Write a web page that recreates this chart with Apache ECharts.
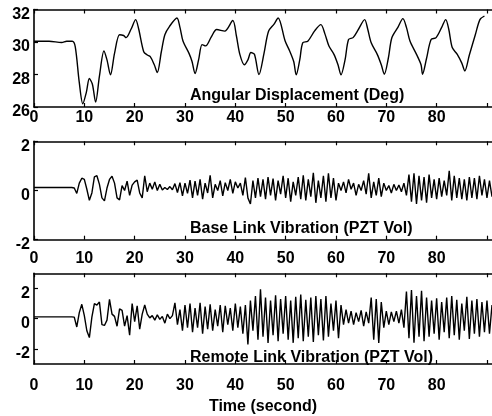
<!DOCTYPE html>
<html><head><meta charset="utf-8">
<script src="https://cdn.jsdelivr.net/npm/echarts@6/dist/echarts.min.js"></script>
<style>html,body{margin:0;padding:0;background:#fff}#c{width:492px;height:416px}</style>
</head><body><div id="c"></div>
<script>
// ---- data ----
const xTickValues = [0,10,20,30,40,50,60,70,80];
const angleTickValues = [26,28,30,32];
const vibTickValues = [-2,0,2];
const panelTitles = ['Angular Displacement (Deg)','Base Link Vibration (PZT Vol)','Remote Link Vibration (PZT Vol)'];
const xTitle = 'Time (second)';

const angleTime = [0,3,5.5,6.5,7.6,8.2,9.0,9.7,10.4,11.0,11.6,12.25,13.0,13.9,14.5,15.2,16.0,17.0,17.8,18.3,19.3,20.2,20.8,21.8,22.5,23.1,23.9,24.5,25.3,26.0,26.9,28.4,29.0,29.6,30.8,31.4,32.0,32.7,33.4,34.1,35.2,36.3,37.9,39.5,40.2,40.9,41.8,42.5,43.1,43.8,44.7,45.7,46.6,47.7,48.5,49.9,50.8,51.6,52.1,52.8,53.4,54.4,55.8,57.0,57.8,58.6,59.6,60.4,61.0,61.8,62.5,63.4,64.5,65.7,66.3,67.0,68.2,69.0,69.6,70.4,71.1,72.3,73.3,74.0,74.7,76.0,76.9,77.2,78.0,78.9,79.9,81.0,81.8,82.4,83.1,84.1,85.0,85.6,86.5,87.7,88.6,89.5];
const angleDeg = [30.05,30.05,29.97,30.05,30.05,29.7,27.5,26.2,26.9,27.75,27.4,26.3,27.9,29.45,28.9,27.98,29.3,30.45,30.4,30.27,30.8,31.38,30.8,29.4,29.2,29.1,28.6,28.12,29.4,30.45,30.95,31.48,30.9,30.06,29.3,28.8,28.06,28.9,29.84,29.76,30.3,30.77,30.67,31.32,30.4,29.24,28.6,28.9,29.35,29.24,28.0,29.3,30.66,31.1,31.48,30.06,29.45,28.8,27.98,28.9,29.95,30.05,30.7,31.07,30.5,29.75,29.24,28.6,27.98,28.9,30.15,30.27,30.8,31.38,30.8,29.95,29.24,28.6,28.02,29.0,30.26,30.9,31.44,30.9,30.06,29.24,28.6,28.02,29.0,30.15,30.27,30.9,31.38,30.8,29.66,29.24,28.7,28.22,29.2,30.46,31.38,31.6];

// vibration samples: first value at t=0, then every 0.5 s from t=7.5
const vibStart = 7.5, vibStep = 0.5;
const baseLinkPZT = [0.12,
 0.12,0.10,-0.12,0.30,0.50,0.45,0.05,-0.40,-0.10,0.55,
 0.60,0.25,-0.30,-0.42,0.10,0.45,0.58,0.30,-0.30,-0.38,
 0.20,0.00,0.38,-0.20,0.22,0.35,0.42,-0.10,-0.30,0.60,
 -0.05,0.30,0.05,0.35,0.00,0.25,0.02,0.12,0.04,0.16,
 0.03,0.28,-0.08,0.32,-0.22,0.30,-0.12,0.42,-0.30,0.38,
 -0.20,0.45,-0.35,0.30,-0.10,0.62,-0.30,0.25,0.00,0.40,
 -0.22,0.32,0.00,0.45,-0.12,0.35,0.10,0.30,-0.20,0.52,
 -0.30,-0.55,0.40,-0.30,0.50,-0.25,0.45,-0.35,0.55,-0.20,
 0.48,-0.40,0.40,-0.15,0.60,-0.30,0.50,-0.45,0.35,-0.20,
 0.55,-0.35,0.62,-0.40,0.45,-0.25,0.72,-0.50,0.40,-0.30,
 0.60,-0.45,0.70,-0.30,0.50,-0.40,0.30,0.00,0.35,-0.10,
 0.45,0.05,0.30,-0.20,0.25,0.00,0.40,-0.15,0.70,-0.30,
 0.35,-0.20,0.50,-0.25,0.30,0.00,0.20,-0.10,0.25,0.00,
 0.22,-0.05,0.30,-0.20,0.65,-0.45,0.70,-0.55,0.60,-0.40,
 0.55,-0.50,0.65,-0.30,0.45,-0.35,0.50,-0.25,0.40,-0.20,
 0.80,-0.40,0.60,-0.30,0.50,-0.35,0.45,-0.40,0.55,-0.30,
 0.50,-0.35,0.60,-0.20,0.45,-0.30,0.40,-0.25];
const remoteLinkPZT = [0.12,
 0.12,0.10,-0.55,0.40,0.95,0.20,-0.80,-1.25,0.10,1.00,
 0.90,1.10,-0.40,-0.45,-0.10,1.28,0.30,0.15,-0.50,0.65,
 0.55,-0.50,0.20,-1.10,1.00,-0.20,0.85,-0.70,0.30,0.90,
 0.30,0.05,0.20,-0.10,0.25,-0.05,0.15,-0.30,0.30,0.00,
 0.20,1.05,-0.40,0.60,-0.80,0.90,-0.60,1.00,-0.90,0.70,
 -0.60,1.05,-1.00,0.80,-0.70,0.95,-0.80,0.60,-0.50,0.90,
 -0.90,0.85,-0.40,0.70,-0.80,1.00,-0.60,0.80,-1.00,0.90,
 -1.70,1.20,-0.80,1.50,-1.40,1.94,-1.20,1.40,-1.60,1.20,
 -1.10,1.55,-1.50,1.30,-1.00,1.50,-1.40,1.20,-1.60,1.45,
 -1.30,1.60,-1.50,1.25,-1.20,1.40,-1.55,1.50,-1.10,1.30,
 -1.45,1.50,-1.20,1.00,-0.80,1.20,-1.30,0.90,-0.40,0.60,
 -0.30,0.50,-0.40,0.40,-0.20,0.55,-0.50,0.45,-0.30,1.40,
 -1.40,1.30,-1.60,1.10,-0.60,0.50,-0.40,0.45,-0.20,0.50,
 -0.30,0.60,-0.60,1.80,-1.30,1.90,-1.60,1.50,-1.20,1.85,
 -1.50,1.40,-1.20,1.20,-1.00,1.35,-1.40,1.10,-0.90,1.40,
 -1.30,1.50,-1.10,1.25,-1.40,1.00,-0.80,1.45,-1.35,1.20,
 -1.00,1.30,-1.20,1.10,-0.90,1.20,-1.00,0.90];

// ---- build ----
const vibTime = baseLinkPZT.map((_, i) => i === 0 ? 0 : vibStart + (i - 1) * vibStep);
const pair = (ts, vs) => vs.map((v, i) => [ts[i], v]);

const FONT = '"Liberation Sans", Arial, sans-serif';
const tickFont = {color:'#000', fontFamily: FONT, fontWeight:'bold', fontSize:16};
const X_MIN = 0, X_MAX = 91;
const grids = [
  {left:34, top:9.5, width:470, height:97.5},
  {left:34, top:141.3, width:470, height:98.4},
  {left:34, top:273.3, width:470, height:96.7}
];
const lineAx = {show:true, onZero:false, lineStyle:{color:'#000', width:1.6}};
const tickAx = (vals) => ({show:true, inside:true, length:4, lineStyle:{color:'#000', width:1.2}, customValues:vals});
const xAxes = [], yAxes = [];
const xLabelMargin = [3, 11, 14];
grids.forEach((g, i) => {
  xAxes.push({type:'value', gridIndex:i, position:'bottom', min:X_MIN, max:X_MAX,
    axisLine:lineAx, splitLine:{show:false},
    axisTick:tickAx([0,10,20,30,40,50,60,70,80,90]),
    axisLabel:Object.assign({margin:xLabelMargin[i], customValues:xTickValues}, tickFont),
    name: i === 2 ? xTitle : '', nameLocation:'middle', nameGap:35,
    nameTextStyle:{color:'#000', fontFamily:FONT, fontWeight:'bold', fontSize:16}
  });
  xAxes.push({type:'value', gridIndex:i, position:'top', min:X_MIN, max:X_MAX,
    axisLine:lineAx, splitLine:{show:false},
    axisTick:tickAx([0,10,20,30,40,50,60,70,80,90]),
    axisLabel:{show:false}
  });
  const ticks = i === 0 ? angleTickValues : vibTickValues;
  const mn = i === 0 ? 26 : (i === 1 ? -2 : -3);
  const mx = i === 0 ? 32 : (i === 1 ? 2 : 3);
  yAxes.push({type:'value', gridIndex:i, min:mn, max:mx,
    axisLine:lineAx, splitLine:{show:false},
    axisTick:tickAx(ticks),
    axisLabel:Object.assign({margin:4, customValues:ticks, verticalAlign:'top', lineHeight:10}, tickFont)
  });
});

const lineStyle = {color:'#000', width:1.4};
const series = [
  {type:'line', xAxisIndex:0, yAxisIndex:0, data:pair(angleTime, angleDeg), showSymbol:false, smooth:0.3, lineStyle, silent:true},
  {type:'line', xAxisIndex:2, yAxisIndex:1, data:pair(vibTime, baseLinkPZT), showSymbol:false, lineStyle, silent:true},
  {type:'line', xAxisIndex:4, yAxisIndex:2, data:pair(vibTime, remoteLinkPZT), showSymbol:false, lineStyle, silent:true}
];

const titleY = [96, 229, 358];
const graphic = panelTitles.map((t, i) => ({
  type:'text', x:190, y:titleY[i], z:100,
  style:{text:t, fill:'#000', font:'bold 16px ' + FONT, verticalAlign:'middle', align:'left'}
}));

const chart = echarts.init(document.getElementById('c'), null, {renderer:'canvas'});
chart.setOption({animation:false, grid:grids, xAxis:xAxes, yAxis:yAxes, series, graphic});
</script>
</body></html>
